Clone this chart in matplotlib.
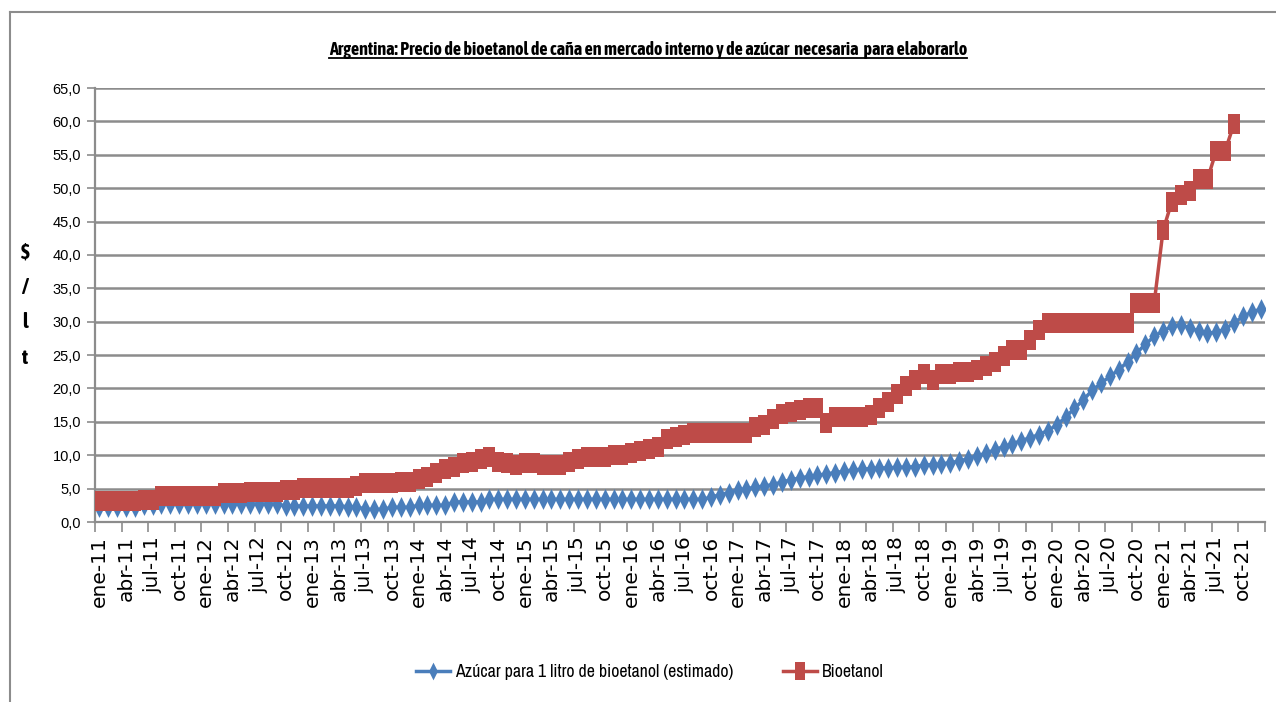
import numpy as np
import matplotlib
matplotlib.use("Agg")
import matplotlib.pyplot as plt
from matplotlib import font_manager
from matplotlib.lines import Line2D

# meses (ene-11 .. dic-21), una categoria por mes
meses = ['ene', 'feb', 'mar', 'abr', 'may', 'jun', 'jul', 'ago', 'sep', 'oct', 'nov', 'dic']
anios = list(range(11, 22))
categorias = [f"{m}-{a}" for a in anios for m in meses]

# $/lt, un renglon por anio
bioetanol = [
    3.1, 3.1, 3.1, 3.1, 3.1, 3.3, 3.3, 3.9, 3.9, 3.9, 3.9, 3.9,
    3.9, 3.9, 4.3, 4.3, 4.3, 4.5, 4.5, 4.5, 4.5, 4.8, 4.8, 5.1,
    5.1, 5.1, 5.1, 5.1, 5.1, 5.4, 5.8, 5.8, 5.8, 5.8, 6.0, 6.0,
    6.4, 6.7, 7.3, 7.9, 8.2, 8.8, 9.0, 9.4, 9.7, 9.0, 8.8, 8.5,
    8.8, 8.8, 8.5, 8.5, 8.5, 9.0, 9.4, 9.7, 9.7, 9.7, 10.0, 10.0,
    10.4, 10.6, 10.9, 11.2, 12.4, 12.8, 13.0, 13.3, 13.3, 13.3, 13.3, 13.3,
    13.3, 13.3, 14.2, 14.5, 15.4, 16.2, 16.4, 16.7, 17.0, 17.0, 14.9, 15.8,
    15.8, 15.8, 15.8, 16.1, 17.0, 18.0, 19.1, 20.4, 21.3, 22.2, 21.3, 22.2,
    22.2, 22.5, 22.5, 22.8, 23.4, 24.0, 24.9, 25.7, 25.7, 27.3, 28.8, 29.8,
    29.8, 29.8, 29.8, 29.8, 29.8, 29.8, 29.8, 29.8, 29.8, 32.8, 32.8, 32.8,
    43.7, 48.0, 49.0, 49.5, 51.3, 51.3, 55.6, 55.6, 59.6, np.nan, np.nan, np.nan,
]

azucar = [
    2.3, 2.3, 2.3, 2.3, 2.3, 2.5, 2.5, 2.7, 2.7, 2.7, 2.7, 2.7,
    2.7, 2.7, 2.7, 2.7, 2.7, 2.7, 2.7, 2.7, 2.7, 2.4, 2.4, 2.4,
    2.4, 2.4, 2.4, 2.4, 2.3, 2.3, 1.9, 1.9, 1.9, 2.2, 2.2, 2.2,
    2.5, 2.5, 2.5, 2.5, 3.0, 3.0, 3.0, 3.0, 3.4, 3.4, 3.4, 3.4,
    3.4, 3.4, 3.4, 3.4, 3.4, 3.4, 3.4, 3.4, 3.4, 3.4, 3.4, 3.4,
    3.4, 3.4, 3.4, 3.4, 3.4, 3.4, 3.4, 3.4, 3.4, 3.7, 4.1, 4.4,
    4.8, 5.0, 5.2, 5.4, 5.6, 6.0, 6.3, 6.6, 6.8, 7.0, 7.2, 7.4,
    7.6, 7.8, 7.9, 8.0, 8.1, 8.1, 8.2, 8.2, 8.3, 8.5, 8.6, 8.7,
    8.9, 9.1, 9.5, 9.9, 10.3, 10.8, 11.3, 11.7, 12.2, 12.6, 13.1, 13.7,
    14.5, 15.7, 17.0, 18.3, 19.7, 20.8, 21.8, 22.8, 24.0, 25.3, 26.6, 27.8,
    28.6, 29.3, 29.5, 29.1, 28.6, 28.3, 28.4, 28.9, 29.8, 30.8, 31.4, 31.9,
]

titulo = "Argentina: Precio de bioetanol de caña en mercado interno y de azúcar  necesaria  para elaborarlo"
serie_azucar = "Azúcar para 1 litro de bioetanol (estimado)"
serie_bio = "Bioetanol"

# fuente angosta (con negrita si existe) si hay alguna instalada
fuentes = font_manager.fontManager.ttflist
angostas = sorted({f.name for f in fuentes if "Narrow" in f.name or "Condensed" in f.name})
con_negrita = sorted({f.name for f in fuentes if f.name in angostas
                      and (f.weight == "bold" or (isinstance(f.weight, int) and f.weight >= 600))})
narrow = angostas[0] if angostas else "Liberation Sans"
narrow_bold = con_negrita[0] if con_negrita else "Liberation Sans"
plt.rcParams["font.family"] = ["Liberation Sans", "DejaVu Sans"]

azul = "#4a7ebb"
rojo = "#be4b48"
gris = "#8c8c8c"

W, H = 1276, 702
fig = plt.figure(figsize=(W / 100, H / 100), dpi=100)
ax = fig.add_axes([95 / W, 1 - 522 / H, 1170 / W, 434 / H])

x = np.arange(len(categorias))
rombo = [(0, -1), (0.5, 0), (0, 1), (-0.5, 0), (0, -1)]
rect = [(-0.55, -1), (0.55, -1), (0.55, 1), (-0.55, 1), (-0.55, -1)]

ax.plot(x, azucar, color=azul, lw=2.5, marker=rombo, ms=15, mew=0, zorder=3,
        label=serie_azucar)
ax.plot(x, bioetanol, color=rojo, lw=2.5, marker=rect, ms=14.5, mew=0, zorder=4,
        label=serie_bio)

ax.set_xlim(-0.5, len(categorias) - 0.5)
ax.set_ylim(0, 65)
yt = np.arange(0, 66, 5)
ax.set_yticks(yt)
ax.set_yticklabels([f"{v:.1f}".replace(".", ",") for v in yt], fontsize=10.5)
ax.yaxis.grid(True, color=gris, lw=1.8)
ax.set_axisbelow(True)

# marcas en los limites de cada trimestre, etiquetas en el primer mes
ax.set_xticks(np.arange(-0.5, len(categorias), 3))
ax.set_xticklabels([])
ax.set_xticks(x[::3], categorias[::3], minor=True)
ax.tick_params(axis="x", which="major", direction="out", length=7, color=gris, width=1.2)
ax.tick_params(axis="x", which="minor", length=0, pad=10)
for lab in ax.get_xticklabels(minor=True):
    lab.set_rotation(90)
    lab.set_family("DejaVu Sans")
    lab.set_fontsize(14.5)
ax.tick_params(axis="y", direction="out", length=6, color=gris, width=1.2, pad=4)

for s in ["top", "right"]:
    ax.spines[s].set_visible(False)
for s in ["left", "bottom"]:
    ax.spines[s].set_color(gris)
    ax.spines[s].set_linewidth(1.6)

# etiqueta del eje y, letra por letra
for ch, yp in zip(["$", "/", "l", "t"], [252, 287, 322, 358]):
    fig.text(25 / W, 1 - yp / H, ch, ha="center", va="center", fontsize=15,
             fontweight="bold", family=[narrow_bold, "DejaVu Sans"])

renderer = fig.canvas.get_renderer()

tit = fig.text(648 / W, 1 - 50 / H, titulo, ha="center", va="center", fontsize=12,
               fontweight="bold", family=[narrow_bold, "DejaVu Sans"])
w = tit.get_window_extent(renderer).width
tit.set_fontsize(12 * 632 / w)
bb = tit.get_window_extent(renderer)
fig.add_artist(Line2D([bb.x0 / W, bb.x1 / W], [(bb.y0 + 1) / H] * 2, color="black", lw=1.3))

leg = fig.legend(loc="center", bbox_to_anchor=(650 / W, 1 - 672 / H), ncol=2, frameon=False,
                 handlelength=1.9, handletextpad=0.3, columnspacing=2.8, markerscale=0.85,
                 prop={"family": [narrow, "DejaVu Sans"], "size": 12.8})

# marco exterior del grafico
fig.add_artist(Line2D([10 / W, 10 / W], [0, 1 - 12 / H], color=gris, lw=1.5))
fig.add_artist(Line2D([10 / W, 1], [1 - 12 / H] * 2, color=gris, lw=1.5))

fig.savefig("out.png", dpi=100)
